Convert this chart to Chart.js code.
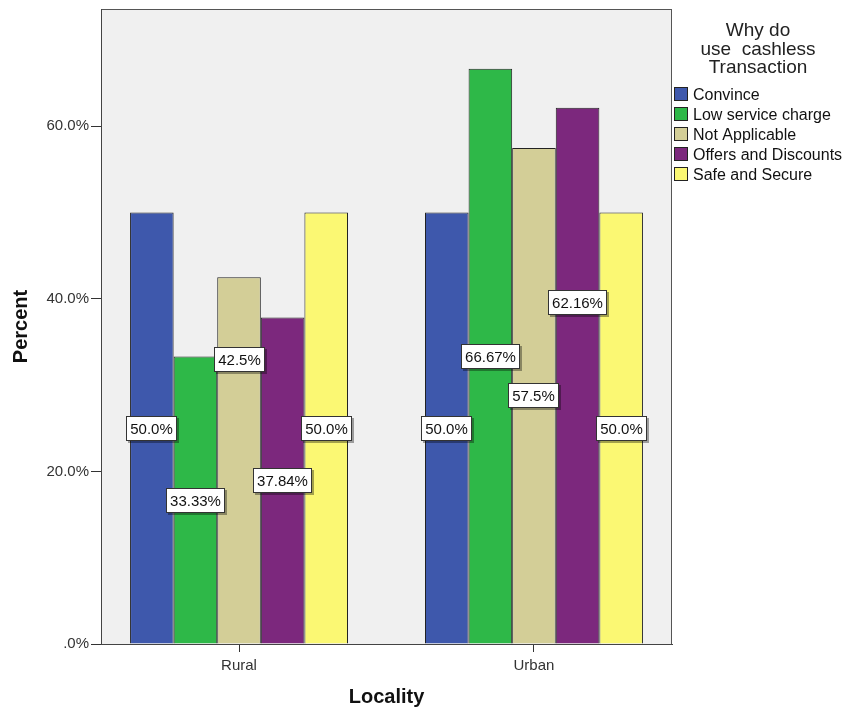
<!DOCTYPE html>
<html>
<head>
<meta charset="utf-8">
<script src="https://cdn.jsdelivr.net/npm/chart.js@4"></script>
<style>
  html, body { margin: 0; padding: 0; background: #fff; }
  canvas { display: block; }
</style>
</head>
<body>
<canvas id="chart" width="845" height="713"></canvas>
<script>
// data
const localities = ['Rural', 'Urban'];
const reasons = ['Convince', 'Low service charge', 'Not Applicable', 'Offers and Discounts', 'Safe and Secure'];
const convince = [50.0, 50.0];
const lowServiceCharge = [33.33, 66.67];
const notApplicable = [42.5, 57.5];
const offersAndDiscounts = [37.84, 62.16];
const safeAndSecure = [50.0, 50.0];
const yTicks = [0, 20, 40, 60];
const legendTitle = ['Why do', 'use  cashless', 'Transaction'];

const series = [convince, lowServiceCharge, notApplicable, offersAndDiscounts, safeAndSecure];
const colors = ['#3e58ac', '#2eb848', '#d3ce97', '#7c287d', '#fbf873'];
const FONT = '"Liberation Sans", Arial, sans-serif';

Chart.defaults.font.family = FONT;

// 50 -> "50.0%", 33.33 -> "33.33%"
function pct(v) {
  const s = Math.abs(v * 10 - Math.round(v * 10)) < 1e-9 ? v.toFixed(1) : v.toFixed(2);
  return s + '%';
}

// grey plot area with a frame
const plotBackground = {
  id: 'plotBackground',
  beforeDraw(chart) {
    const { ctx, chartArea: a } = chart;
    ctx.save();
    ctx.fillStyle = '#fff';
    ctx.fillRect(0, 0, chart.width, chart.height);
    ctx.fillStyle = '#f0f0f0';
    ctx.fillRect(a.left, a.top, a.right - a.left, a.bottom - a.top);
    ctx.strokeStyle = '#555';
    ctx.lineWidth = 1;
    ctx.strokeRect(a.left + 0.5, a.top + 0.5, a.right - a.left - 1, a.bottom - a.top);
    ctx.restore();
  }
};

// boxed value labels, at mid height of each bar unless SPSS moved them
// (moved: "dataset-index" -> label centre in % units)
const barLabels = {
  id: 'barLabels',
  afterDatasetsDraw(chart, args, opts) {
    const ctx = chart.ctx;
    const yScale = chart.scales.y;
    const moved = opts.moved || {};
    ctx.save();
    ctx.font = '15px ' + FONT;
    ctx.textAlign = 'center';
    ctx.textBaseline = 'middle';
    ctx.lineWidth = 1;
    chart.data.datasets.forEach((ds, i) => {
      chart.getDatasetMeta(i).data.forEach((bar, j) => {
        const v = ds.data[j].y;
        const txt = pct(v);
        const at = moved[i + '-' + j] !== undefined ? moved[i + '-' + j] : v / 2;
        const w = Math.round(ctx.measureText(txt).width + 8);
        const h = 25;
        const left = Math.round(bar.x - w / 2);
        const top = Math.round(yScale.getPixelForValue(at) - h / 2);
        ctx.fillStyle = 'rgba(0,0,0,0.35)';
        ctx.fillRect(left + 2, top + 2, w, h);
        ctx.fillStyle = '#fff';
        ctx.fillRect(left, top, w, h);
        ctx.strokeStyle = '#333';
        ctx.strokeRect(left + 0.5, top + 0.5, w - 1, h - 1);
        ctx.fillStyle = '#111';
        ctx.fillText(txt, left + w / 2, top + h / 2 + 1);
      });
    });
    ctx.restore();
  }
};

// legend on the right, with its three-line title
const legendBox = {
  id: 'legendBox',
  afterDraw(chart) {
    const ctx = chart.ctx;
    const left = chart.chartArea.right;
    ctx.save();
    ctx.textBaseline = 'middle';
    ctx.fillStyle = '#222';
    ctx.font = '19px ' + FONT;
    ctx.textAlign = 'center';
    legendTitle.forEach((line, i) => {
      ctx.fillText(line, left + 86, 31 + i * 18.4);
    });
    ctx.font = '16px ' + FONT;
    ctx.textAlign = 'left';
    chart.data.datasets.forEach((ds, i) => {
      const y = 87 + i * 20;
      ctx.fillStyle = ds.backgroundColor;
      ctx.fillRect(left + 2, y, 14, 14);
      ctx.strokeStyle = '#222';
      ctx.strokeRect(left + 2.5, y + 0.5, 13, 13);
      ctx.fillStyle = '#111';
      ctx.fillText(ds.label, left + 21, y + 9);
    });
    ctx.restore();
  }
};

new Chart(document.getElementById('chart'), {
  type: 'bar',
  data: {
    datasets: series.map((vals, i) => ({
      label: reasons[i],
      data: vals.map((v, j) => ({ x: j, y: v })),
      backgroundColor: colors[i],
      borderColor: '#222',
      borderWidth: 1,
      categoryPercentage: 0.739,
      barPercentage: 1
    }))
  },
  options: {
    responsive: false,
    animation: false,
    layout: { padding: { top: 9, right: 173, left: 0, bottom: 0 } },
    plugins: {
      legend: { display: false },
      tooltip: { enabled: false },
      barLabels: { moved: { '2-0': 33.0, '3-1': 39.6 } }
    },
    scales: {
      x: {
        type: 'linear',
        offset: false,
        bounds: 'data',
        min: -0.468,
        max: 1.468,
        afterBuildTicks: (s) => { s.ticks = localities.map((c, i) => ({ value: i })); },
        afterFit: (s) => { s.height = 69; s.paddingLeft = 0; s.paddingRight = 0; },
        ticks: {
          callback: (v) => localities[v],
          font: { size: 15 },
          color: '#333',
          padding: 5,
          maxRotation: 0,
          autoSkip: false
        },
        grid: { offset: false, drawOnChartArea: false, tickLength: 8, color: '#333' },
        border: { color: '#444' },
        title: {
          display: true,
          text: 'Locality',
          font: { size: 20, weight: 'bold' },
          color: '#111',
          padding: { top: 0, bottom: 4 }
        }
      },
      y: {
        min: 0,
        max: 73.6,
        afterBuildTicks: (s) => { s.ticks = yTicks.map((v) => ({ value: v })); },
        afterFit: (s) => { s.width = 101; s.paddingTop = 0; s.paddingBottom = 0; },
        ticks: {
          callback: (v) => (v === 0 ? '.0' : v.toFixed(1)) + '%',
          font: { size: 15 },
          color: '#333',
          padding: 2
        },
        grid: { drawOnChartArea: false, tickLength: 10, color: '#333' },
        border: { color: '#444' },
        title: {
          display: true,
          text: 'Percent',
          font: { size: 20, weight: 'bold' },
          color: '#111',
          padding: { top: 9, bottom: 0 }
        }
      }
    }
  },
  plugins: [plotBackground, barLabels, legendBox]
});
</script>
</body>
</html>
